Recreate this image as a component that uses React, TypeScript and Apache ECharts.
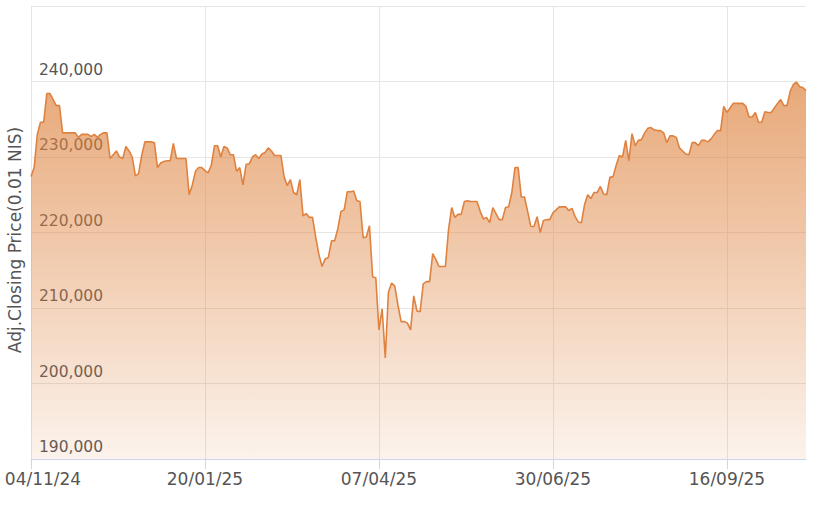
import React, { useEffect, useRef } from "react";
import * as echarts from "echarts";

const tickLabels = ["04/11/24", "20/01/25", "07/04/25", "30/06/25", "16/09/25"];
const holidays = ["2025-04-13", "2025-04-17", "2025-04-30", "2025-05-01", "2025-06-02", "2025-08-03", "2025-09-22", "2025-09-23", "2025-09-24", "2025-10-01", "2025-10-02"];
const yAxisName = "Adj.Closing Price(0.01 NIS)";

const values = [
  227400, 228600, 233000, 234600, 234600, 238400, 238400, 237600, 236800, 236800,
  233200, 233200, 233200, 233200, 233200, 232600, 233000, 233000, 233000, 232700,
  233000, 232600, 233000, 233200, 233200, 229800, 230300, 230800, 230000, 229800,
  231400, 230800, 230000, 227500, 227800, 230200, 232000, 232000, 232000, 231900,
  228600, 229200, 229400, 229500, 229500, 231800, 229800, 229800, 229800, 229800,
  225000, 226300, 228100, 228600, 228600, 228200, 227900, 228900, 231500, 231500,
  230000, 231400, 231200, 230300, 230300, 228100, 228600, 226300, 229000, 229100,
  230000, 230300, 229800, 230400, 230600, 231200, 230800, 230200, 230200, 230200,
  227400, 226200, 227000, 225300, 225000, 227000, 222200, 222500, 222000, 222000,
  219400, 217100, 215500, 216500, 216700, 218900, 218900, 220500, 222800, 223000,
  225400, 225400, 225500, 224200, 224100, 219300, 219400, 220900, 214100, 214000,
  207100, 209900, 203400, 212100, 213300, 212900, 210400, 208200, 208200, 208000,
  207100, 211600, 209600, 209500, 213200, 213500, 213500, 217200, 216400, 215500,
  215500, 215500, 220400, 223300, 222000, 222400, 222400, 224100, 224200, 224100,
  224100, 224100, 222800, 221800, 222000, 221300, 223300, 222500, 221700, 221700,
  223300, 223400, 225300, 228600, 228600, 224700, 224700, 222800, 220800, 220800,
  222100, 220000, 221600, 221700, 221700, 222600, 223000, 223400, 223400, 223400,
  222900, 223200, 222100, 221400, 221300, 223700, 225000, 224500, 225300, 225300,
  226100, 225100, 225000, 227300, 227400, 228900, 230200, 230000, 232200, 229500,
  233100, 231500, 232200, 232300, 233200, 233800, 233900, 233600, 233500, 233500,
  233200, 231900, 232800, 232800, 232600, 231200, 230800, 230400, 230300, 231900,
  231900, 231500, 232200, 232200, 232000, 232400, 233000, 233500, 233500, 236700,
  235900, 236500, 237100, 237100, 237100, 237100, 236700, 235300, 235300, 235900,
  234600, 234600, 236000, 235900, 235900, 236500, 237100, 237600, 236800, 236800,
  238700, 239600, 239900, 239300, 239200, 238800,
];

// Trading days (Sun–Thu) starting 04/11/24, skipping exchange holidays
function buildDates(count: number): string[] {
  const out: string[] = [];
  const d = new Date(Date.UTC(2024, 10, 4));
  while (out.length < count) {
    const dow = d.getUTCDay();
    const iso = d.toISOString().slice(0, 10);
    if (dow !== 5 && dow !== 6 && !holidays.includes(iso)) {
      const dd = String(d.getUTCDate()).padStart(2, "0");
      const mm = String(d.getUTCMonth() + 1).padStart(2, "0");
      const yy = String(d.getUTCFullYear()).slice(2);
      out.push(`${dd}/${mm}/${yy}`);
    }
    d.setUTCDate(d.getUTCDate() + 1);
  }
  return out;
}

const categories = buildDates(values.length);

export default function App() {
  const ref = useRef<HTMLDivElement>(null);
  useEffect(() => {
    if (!ref.current) return;
    const chart = echarts.init(ref.current, undefined, { renderer: "svg" });
    const font = "DejaVu Sans";
    const showTick = (_i: number, v: string) => tickLabels.includes(v);
    chart.setOption({
      animation: false,
      grid: { left: 31, right: 11, top: 6, bottom: 46, containLabel: false, outerBoundsMode: "none" },
      graphic: [
        {
          type: "text",
          x: 15,
          y: 240,
          rotation: Math.PI / 2,
          style: {
            text: yAxisName,
            fill: "#555",
            font: `17px "${font}"`,
            align: "center",
            verticalAlign: "middle",
          },
        },
      ],
      xAxis: {
        type: "category",
        data: categories,
        boundaryGap: false,
        axisLine: { show: true, lineStyle: { color: "#ccd6eb", width: 1 } },
        axisTick: { show: true, interval: showTick, length: 10, lineStyle: { color: "#ccd6eb" } },
        axisLabel: {
          interval: showTick,
          color: "#555",
          fontFamily: font,
          fontSize: 17,
          margin: 11,
          formatter: (v: string) => (v === tickLabels[0] ? `{first|${v}}` : v),
          rich: { first: { padding: [0, 0, 0, 24], color: "#555", fontFamily: font, fontSize: 17 } },
        },
        splitLine: { show: true, interval: showTick, lineStyle: { color: "#e6e6e6", width: 1 } },
      },
      yAxis: {
        type: "value",
        min: 190000,
        max: 250000,
        interval: 10000,
        axisLine: { show: false },
        axisTick: { show: false },
        axisLabel: {
          inside: true,
          showMaxLabel: false,
          verticalAlign: "bottom",
          margin: 8,
          padding: [0, 0, 4, 0],
          color: "#555",
          fontFamily: font,
          fontSize: 15.5,
          formatter: (v: number) => v.toLocaleString("en-US"),
        },
        splitLine: { show: true, lineStyle: { color: "#e6e6e6", width: 1 } },
      },
      series: [
        {
          type: "line",
          data: values,
          symbol: "none",
          lineStyle: { color: "#df8240", width: 1.6 },
          areaStyle: {
            color: new echarts.graphic.LinearGradient(0, 0, 0, 1, [
              { offset: 0, color: "rgba(222,132,64,1)" },
              { offset: 1, color: "rgba(222,132,64,0.14)" },
            ]),
          },
        },
      ],
    });
    return () => chart.dispose();
  }, []);
  return <div ref={ref} style={{ width: 817, height: 505, position: "absolute", left: 0, top: 0 }} />;
}
